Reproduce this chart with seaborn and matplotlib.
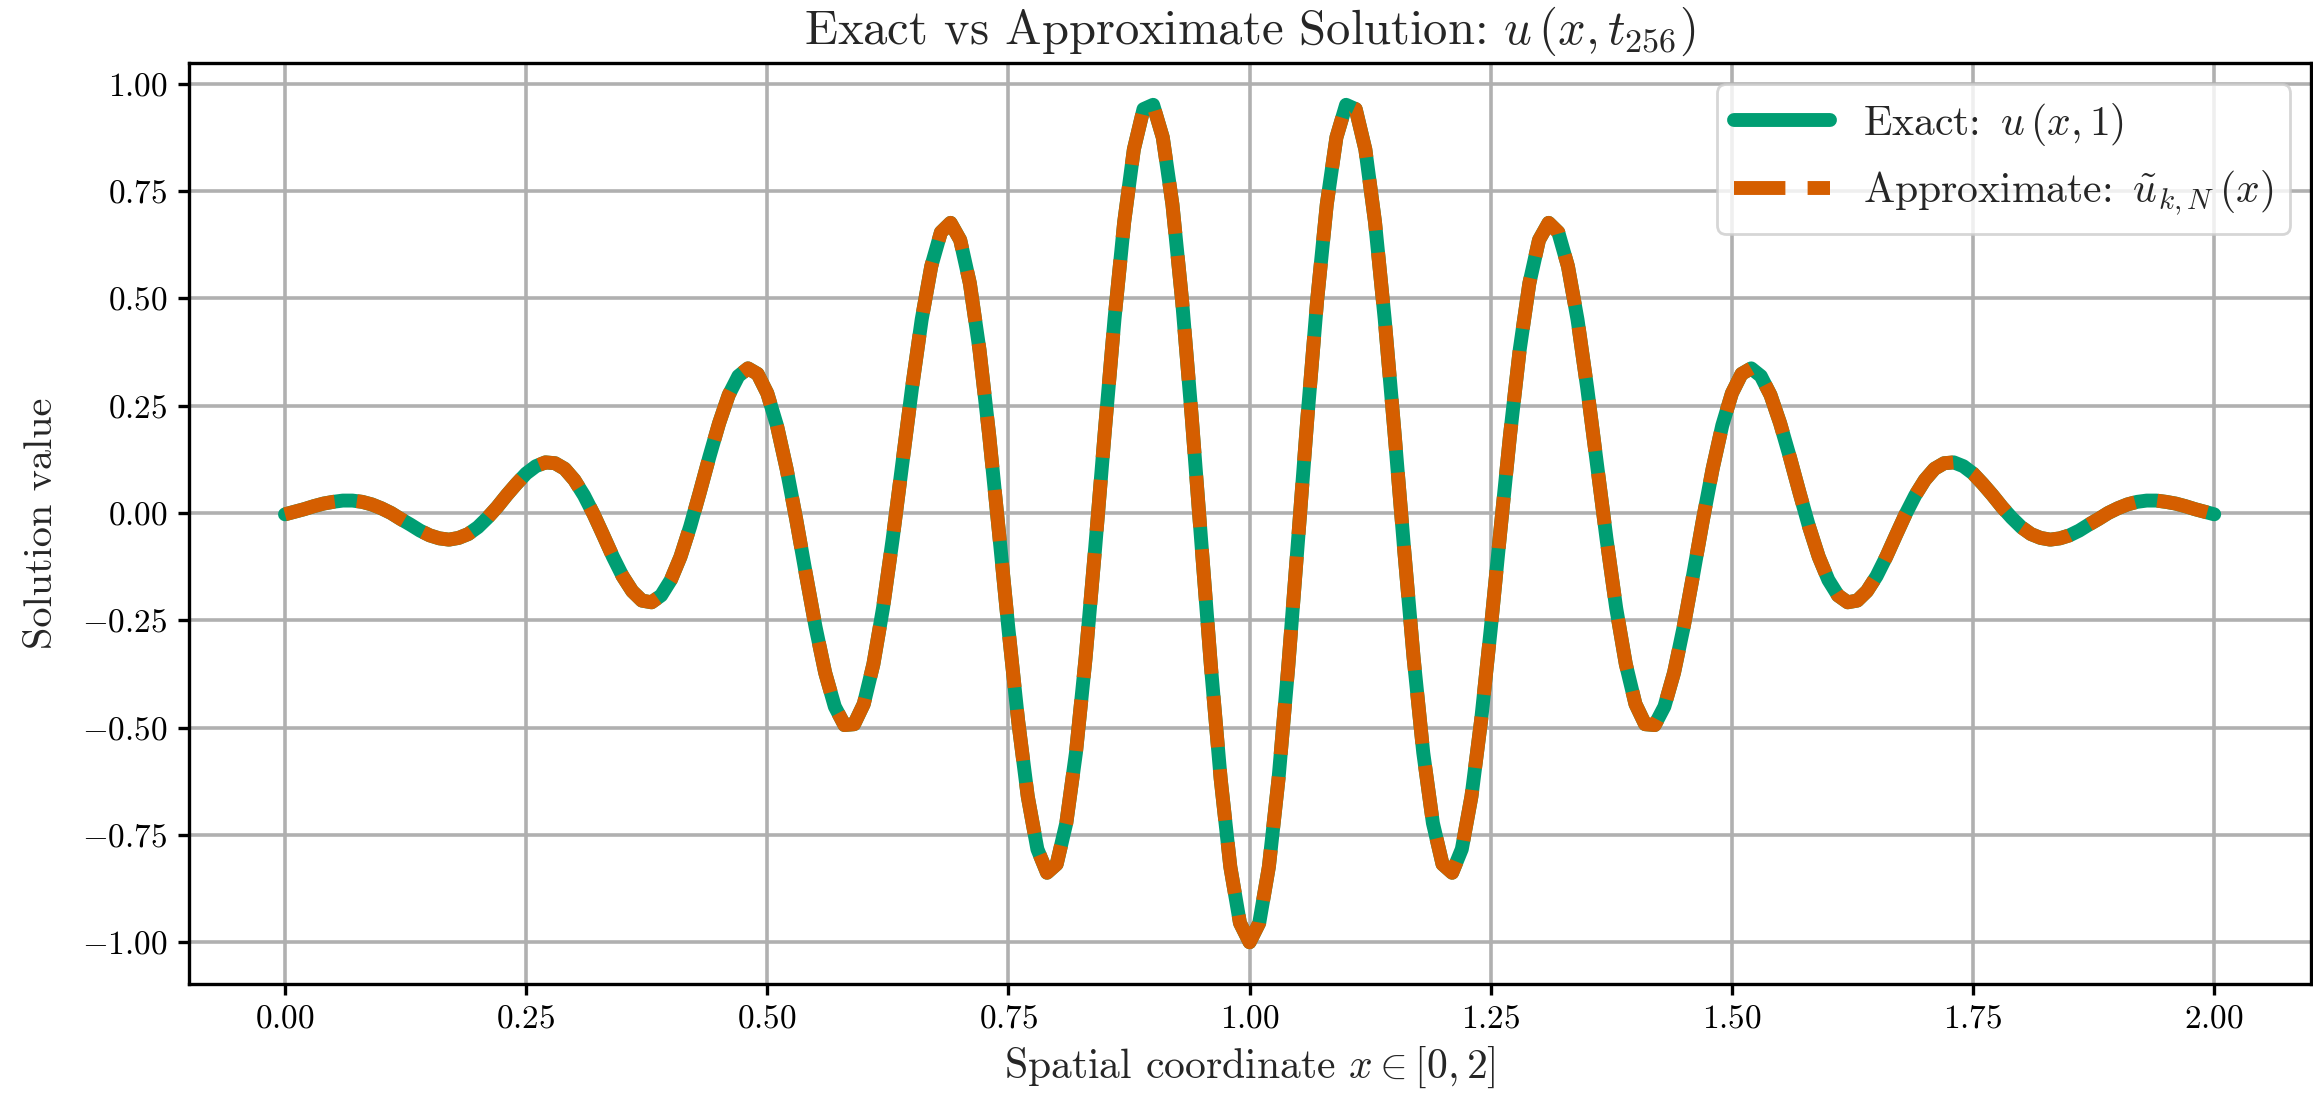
import numpy as np
import pandas as pd
import matplotlib
matplotlib.use("Agg")
import matplotlib.pyplot as plt
import seaborn as sns

# grid points x_j = j/100 on [0, 2]
x = np.linspace(0, 2, 201)

# values for x = 0.00 ... 1.00 (the curve is mirror-symmetric about x = 1)
u_left = [
    -0.003, 0.003, 0.009, 0.016, 0.022, 0.026, 0.029, 0.029, 0.026, 0.020,
    0.011, 0.000, -0.014, -0.027, -0.041, -0.052, -0.059, -0.062, -0.058, -0.049,
    -0.033, -0.011, 0.014, 0.042, 0.068, 0.092, 0.109, 0.118, 0.116, 0.103,
    0.077, 0.041, -0.003, -0.052, -0.102, -0.147, -0.182, -0.204, -0.208, -0.192,
    -0.156, -0.102, -0.032, 0.048, 0.131, 0.209, 0.275, 0.319, 0.337, 0.324,
    0.279, 0.204, 0.103, -0.015, -0.142, -0.265, -0.372, -0.451, -0.494, -0.492,
    -0.445, -0.352, -0.221, -0.060, 0.116, 0.291, 0.450, 0.575, 0.654, 0.676,
    0.636, 0.535, 0.380, 0.182, -0.041, -0.270, -0.483, -0.660, -0.783, -0.838,
    -0.818, -0.722, -0.558, -0.337, -0.079, 0.193, 0.453, 0.678, 0.847, 0.941,
    0.951, 0.875, 0.719, 0.495, 0.224, -0.070, -0.360, -0.619, -0.824, -0.955,
    -1.000,
]
u_exact = u_left + u_left[-2::-1]
u_approx = list(u_exact)

df = pd.DataFrame({"x": x, "exact": u_exact, "approx": u_approx})

sns.set_theme(style="ticks")
plt.rcParams["font.family"] = "serif"
plt.rcParams["font.serif"] = ["cmr10"]
plt.rcParams["mathtext.fontset"] = "cm"
plt.rcParams["axes.formatter.use_mathtext"] = True
plt.rcParams["axes.unicode_minus"] = True

fig, ax = plt.subplots(figsize=(11.565, 5.56), dpi=200)
fig.subplots_adjust(left=0.0815, right=0.999, top=0.943, bottom=0.115)

sns.lineplot(data=df, x="x", y="exact", ax=ax, color="#009E73", linewidth=5,
             label=r"Exact: $\,u\,(x,1)$")
sns.lineplot(data=df, x="x", y="approx", ax=ax, color="#D55E00", linewidth=5,
             linestyle="--", label=r"Approximate: $\,\tilde{u}_{k,N}\,(x)$")

ax.set_xlim(-0.1, 2.1)
ax.set_ylim(-1.0975, 1.0475)
ax.set_xticks([0, 0.25, 0.5, 0.75, 1.0, 1.25, 1.5, 1.75, 2.0])
ax.set_yticks([-1.0, -0.75, -0.5, -0.25, 0.0, 0.25, 0.5, 0.75, 1.0])
ax.xaxis.set_major_formatter(matplotlib.ticker.FormatStrFormatter("$%.2f$"))
ax.yaxis.set_major_formatter(matplotlib.ticker.FormatStrFormatter("$%.2f$"))
ax.grid(True, color="#b0b0b0", linewidth=1.3)
for s in ax.spines.values():
    s.set_linewidth(1.2)
    s.set_color("black")
ax.tick_params(labelsize=12, width=1.2, length=4, colors="black")

ax.set_title(r"Exact vs Approximate Solution: $u\,(x,t_{256})$", fontsize=17.5, pad=7)
ax.set_xlabel(r"Spatial coordinate $x\in[0,2]$", fontsize=15)
ax.set_ylabel("Solution value", fontsize=14.5, labelpad=8)
ax.legend(loc="upper right", fontsize=15, framealpha=0.8, edgecolor="#cccccc",
          fancybox=True, handlelength=2.3, labelspacing=0.5)

fig.savefig("out.png", dpi=200)
